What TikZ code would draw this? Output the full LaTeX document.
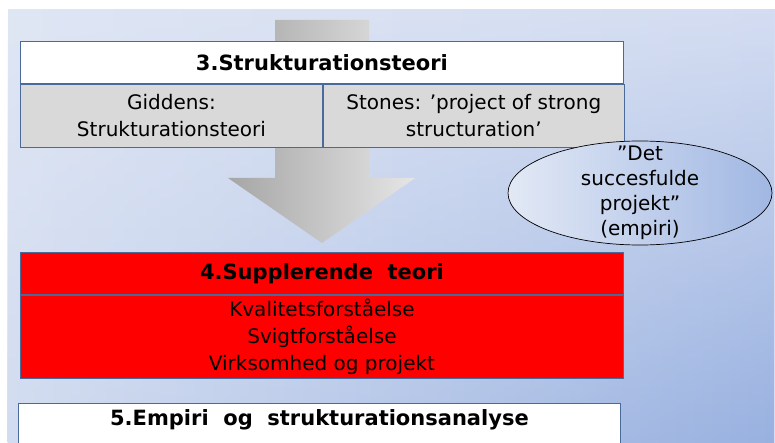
\documentclass[tikz,border=0pt]{standalone}
\usepackage{fontspec}
\setmainfont{DejaVu Sans}
\usetikzlibrary{positioning,shapes.geometric,fadings}

\definecolor{boxline}{HTML}{4A6A9C}
\definecolor{cellgray}{HTML}{D9D9D9}
\definecolor{bgtl}{HTML}{DFE6F4}
\definecolor{bgtr}{HTML}{D4DDF2}
\definecolor{bgbl}{HTML}{D2DCF0}
\definecolor{bgbr}{HTML}{98B1E0}

\tikzset{
  headbox/.style={draw=boxline, line width=0.9pt, fill=white, inner sep=0pt,
    minimum width=603pt, minimum height=42pt,
    font=\fontsize{21}{25}\selectfont\bfseries},
  cellbox/.style={draw=boxline, line width=0.9pt, fill=cellgray, inner sep=0pt,
    minimum height=63pt, align=center, font=\fontsize{20}{27}\selectfont},
  redbox/.style={draw=boxline, line width=0.9pt, fill=red, inner sep=0pt,
    minimum width=603pt},
  cloud/.style={ellipse, draw=black, line width=0.7pt,
    inner xsep=0pt, inner ysep=-13pt,
    minimum width=264pt, minimum height=104pt, align=center,
    left color=bgtl!90!white, right color=bgbr!85!bgtr,
    font=\fontsize{20}{25}\selectfont}
}

\begin{document}
\begin{tikzpicture}[x=1pt,y=-1pt]
  \useasboundingbox (0,0) rectangle (775,443);
  \clip (0,0) rectangle (775,443);
  \shade[left color=bgtl, right color=bgtr] (8,10) rectangle (775,443);
  \shade[left color=bgbl, right color=bgbr, path fading=north]
    (8,10) rectangle (775,443);

  % big arrow behind the boxes
  \shade[left color=black!35, right color=black!10]
    (275,20) -- (369,20) -- (369,178) -- (415,178) -- (322,243)
    -- (228,178) -- (275,178) -- cycle;

  \node[headbox, anchor=north west] (t3) at (20,41) {3.Strukturationsteori};
  \node[cellbox, minimum width=302pt, below right=0pt and 0pt of t3.south west]
    (giddens) {Giddens:\\Strukturationsteori};
  \node[cellbox, minimum width=301pt, right=0pt of giddens]
    (stones) {Stones: ’project of strong\\structuration’};

  \node[redbox, minimum height=42pt, anchor=north west,
    font=\fontsize{21}{25}\selectfont\bfseries] (t4) at (20,252)
    {4.Supplerende\ \ teori};
  \node[redbox, minimum height=83pt, below=0pt of t4, align=center,
    font=\fontsize{20}{27}\selectfont] (suppl)
    {Kvalitetsforståelse\\Svigtforståelse\\Virksomhed og projekt};

  \node[headbox, minimum width=602pt, text depth=13pt, anchor=north west]
    (t5) at (18,403) {5.Empiri\ \ og\ \ strukturationsanalyse};

  \node[cloud] (empiri) at (640,193) {”Det\\succesfulde\\projekt”\\(empiri)};
\end{tikzpicture}
\end{document}
